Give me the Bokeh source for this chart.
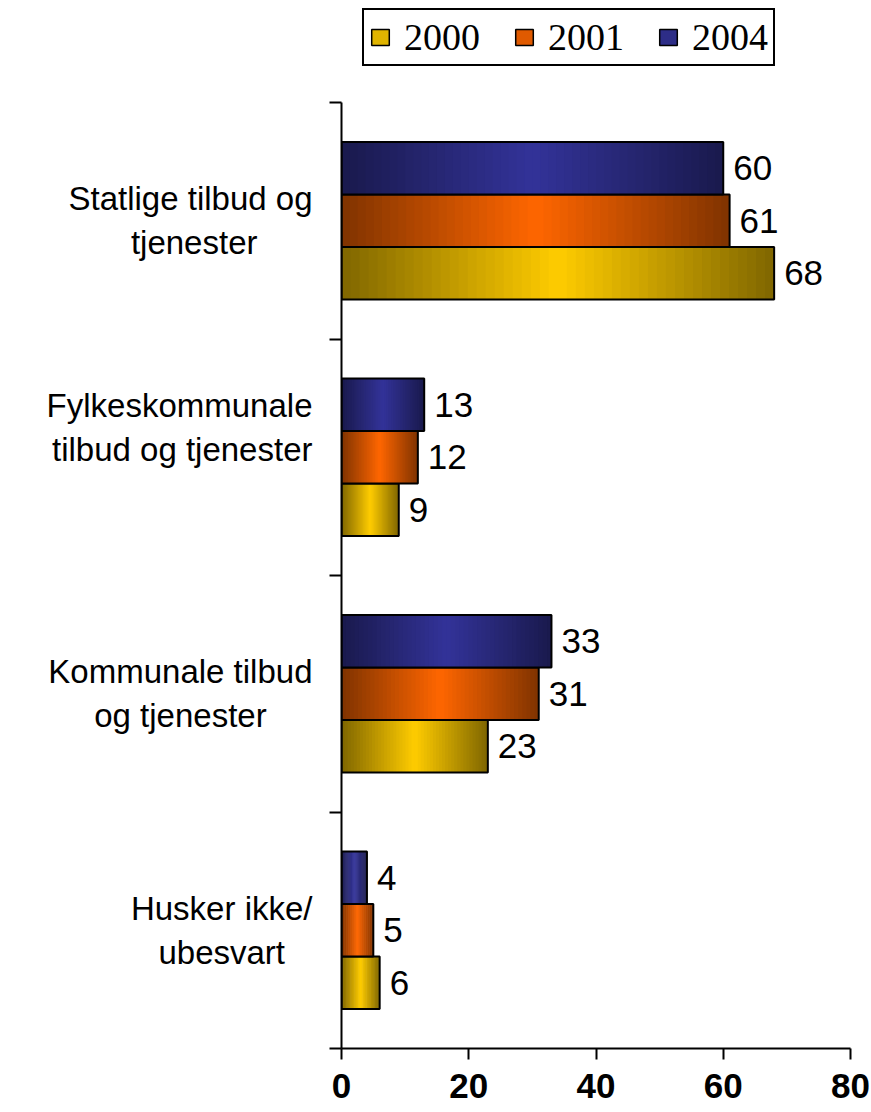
from bokeh.plotting import figure
from bokeh.models import (Range1d, FixedTicker, Legend, LegendItem, LinearAxis,
                          ColumnDataSource)
from bokeh.layouts import column
from bokeh.core.properties import value
from bokeh.embed import file_html
from bokeh.resources import INLINE

# ---- data ----
categories = ["Statlige tilbud og\ntjenester",
              "Fylkeskommunale\ntilbud og tjenester",
              "Kommunale tilbud\nog tjenester",
              "Husker ikke/\nubesvart"]
series_names = ["2000", "2001", "2004"]
v2000 = [68, 9, 23, 6]
v2001 = [61, 12, 31, 5]
v2004 = [60, 13, 33, 4]
x_ticks = [0, 20, 40, 60, 80]

# ---- style ----
center_colors = {"2000": (255, 204, 0), "2001": (255, 102, 0), "2004": (51, 51, 153)}
offsets = {"2000": -0.222, "2001": 0.0, "2004": 0.222}
bar_h = 0.222
N = 48
SANS = "Liberation Sans"
SERIF = "Liberation Serif"
WIDTH = 871

def hexc(rgb, f):
    return "#%02x%02x%02x" % tuple(max(0, min(255, int(round(c * f)))) for c in rgb)

values = {"2000": v2000, "2001": v2001, "2004": v2004}

# ---------------- legend figure ----------------
lg = figure(width=WIDTH, height=100, output_backend="svg", toolbar_location=None,
            x_range=Range1d(0, 80), y_range=Range1d(0, 1),
            min_border_left=0, min_border_right=0, min_border_top=0, min_border_bottom=0)
lg.axis.visible = False
lg.grid.visible = False
lg.outline_line_color = None
items = []
for name in series_names:
    # hidden proxy renderers: only their legend swatches are drawn
    r = lg.hbar(y=[0.5] * len(values[name]), left=0, right=values[name], height=0.1,
                fill_color=hexc(center_colors[name], 0.88),
                line_color="black", line_width=1.5, visible=False)
    items.append(LegendItem(label=name, renderers=[r]))
legend = Legend(items=items, orientation="horizontal", location=(21, 34),
                label_text_font=SERIF, label_text_font_size="38px",
                label_text_color="black",
                glyph_width=22, glyph_height=20, label_standoff=13, spacing=33,
                padding=5, margin=0, border_line_color="black", border_line_width=2,
                border_line_alpha=1.0,
                background_fill_color="white", background_fill_alpha=1)
lg.add_layout(legend)

# ---------------- main figure ----------------
p = figure(width=WIDTH, height=1012, output_backend="svg", toolbar_location=None,
           x_range=Range1d(0, 80), y_range=Range1d(0, 4),
           min_border_left=341, min_border_right=21, min_border_top=2,
           min_border_bottom=64)
p.outline_line_color = None
p.xgrid.visible = False
p.ygrid.visible = False
p.background_fill_color = "white"

ncat = len(categories)
cat_y = [ncat - 0.5 - i for i in range(ncat)]

for name in series_names:
    vals = values[name]
    ys = [y + offsets[name] for y in cat_y]
    L, R, Y, C = [], [], [], []
    for v, y in zip(vals, ys):
        for k in range(N):
            t = abs((k + 0.5) / N * 2 - 1)
            f = 1 - 0.5 * t
            L.append(v * k / N)
            R.append(min(v, v * (k + 1.8) / N))
            Y.append(y)
            C.append(hexc(center_colors[name], f))
    src = ColumnDataSource(dict(left=L, right=R, y=Y, color=C))
    p.hbar(y="y", left="left", right="right", height=bar_h, fill_color="color",
           line_color=None, source=src)
    osrc = ColumnDataSource(dict(y=ys, right=vals, txt=[str(v) for v in vals]))
    p.hbar(y="y", left=0, right="right", height=bar_h, fill_alpha=0,
           line_color="black", line_width=2, source=osrc)
    p.text(x="right", y="y", text="txt", source=osrc, x_offset=10,
           text_baseline="middle", text_align="left",
           text_font=value(SANS), text_font_size="35px", text_color="black")

# x axis
p.xaxis.ticker = FixedTicker(ticks=x_ticks)
p.xaxis.major_label_text_font = SANS
p.xaxis.major_label_text_font_style = "bold"
p.xaxis.major_label_text_font_size = "35px"
p.xaxis.major_label_text_color = "black"
p.xaxis.major_tick_out = 11
p.xaxis.major_tick_in = 0
p.xaxis.minor_tick_line_color = None
p.xaxis.axis_line_width = 2
p.xaxis.major_tick_line_width = 2
p.xaxis.axis_line_color = "black"
p.xaxis.major_tick_line_color = "black"
p.xaxis.major_label_standoff = 14

# y axis: boundary ticks only
p.yaxis.ticker = FixedTicker(ticks=list(range(ncat + 1)))
p.yaxis.major_label_overrides = {i: "" for i in range(ncat + 1)}
p.yaxis.major_label_text_font_size = "1px"
p.yaxis.major_label_standoff = 0
p.yaxis.major_tick_out = 12
p.yaxis.major_tick_in = 0
p.yaxis.minor_tick_line_color = None
p.yaxis.axis_line_width = 2
p.yaxis.major_tick_line_width = 2
p.yaxis.axis_line_color = "black"
p.yaxis.major_tick_line_color = "black"

# category label axis (lines centred within each block via nbsp padding)
W = {" ": 278, "/": 278, "F": 611, "H": 722, "K": 667, "S": 667, "a": 556, "b": 556,
     "d": 556, "e": 556, "g": 556, "i": 222, "j": 222, "k": 500, "l": 222, "m": 833,
     "n": 556, "o": 556, "r": 333, "s": 500, "t": 278, "u": 556, "v": 500, "y": 500}
def centred(txt):
    lines = txt.split("\n")
    ws = [sum(W.get(ch, 556) for ch in ln) for ln in lines]
    wmax = max(ws)
    return "\n".join(ln + "\u00a0" * int(round((wmax - w) / 2 / 278)) for ln, w in zip(lines, ws))

label_pos = [3.5, 2.625, 1.5, 0.5]
lab_axis = LinearAxis(ticker=FixedTicker(ticks=label_pos),
                      major_label_overrides={pos: centred(c) for pos, c in zip(label_pos, categories)},
                      axis_line_color=None, major_tick_line_color=None,
                      minor_tick_line_color=None, major_tick_out=0, major_tick_in=0,
                      major_label_standoff=17,
                      major_label_text_font=SANS, major_label_text_font_size="33px",
                      major_label_text_color="black")
p.add_layout(lab_axis, "left")

open("out.html", "w").write(file_html(column(lg, p, spacing=0), INLINE))
